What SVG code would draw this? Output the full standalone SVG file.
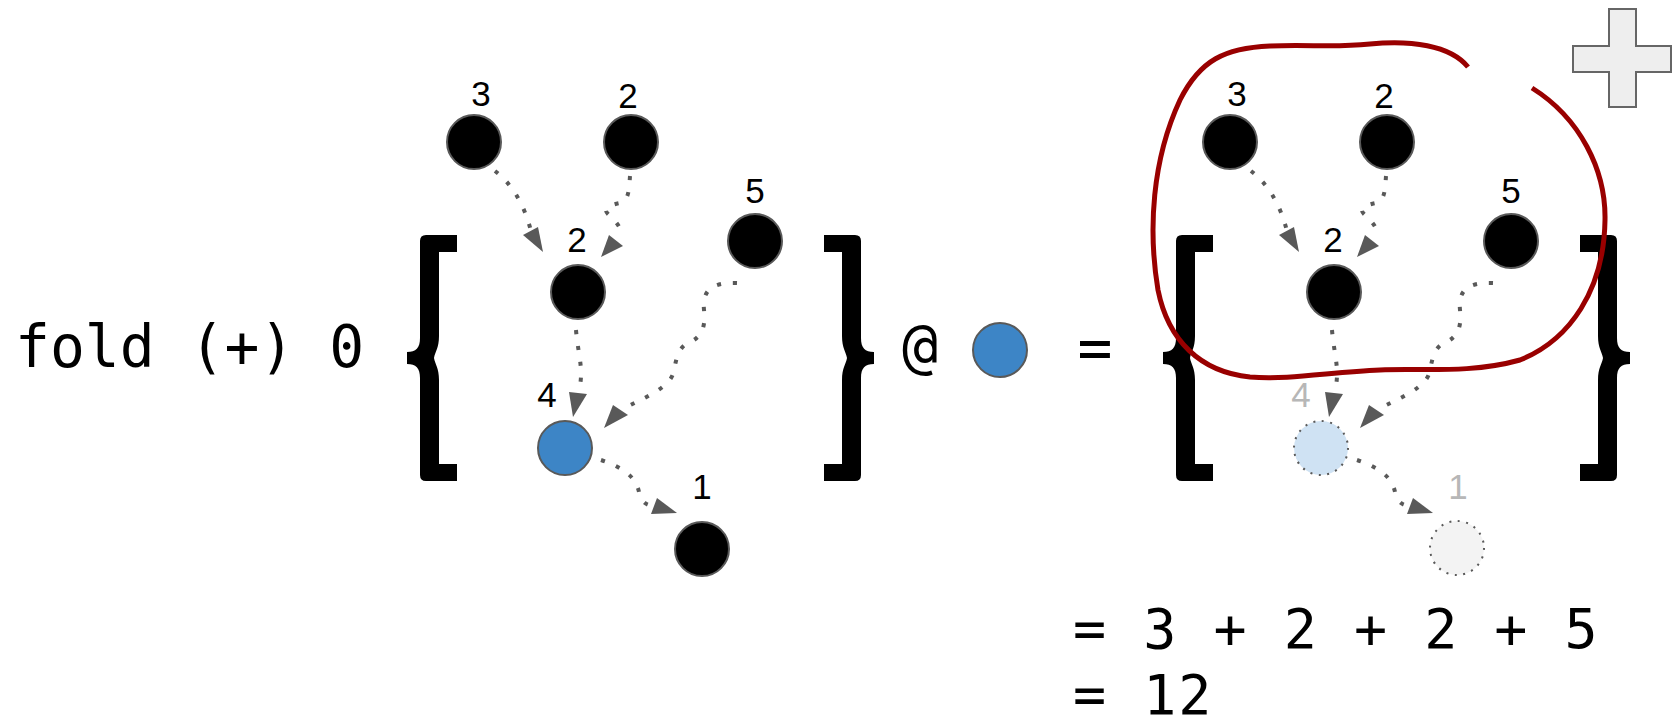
<svg xmlns="http://www.w3.org/2000/svg" xmlns:xlink="http://www.w3.org/1999/xlink" width="1677" height="728" viewBox="0 0 1677 728">
<style>
.mono{font-family:"DejaVu Sans Mono","Liberation Mono",monospace;fill:#000}
.lbl{font-family:"Liberation Sans",Arial,sans-serif;font-size:35px;text-anchor:middle;fill:#000}
.glbl{fill:#b7b7b7}
.node{stroke:#595959;stroke-width:2}
.blk{fill:#000}
.blue{fill:#3d85c6}
.gnode{stroke:#595959;stroke-width:2;stroke-dasharray:2 6.5}
.edge{fill:none;stroke:#595959;stroke-width:4;stroke-dasharray:4 12}
.ah{fill:#595959}
.brk{fill:#000}
</style>
<defs>
<path id="brk" class="brk" d="M6,235 L37,235 L37,252 L19,252 L19,336 C19,348 15,352 14,358 C15,364 19,368 19,380 L19,464 L37,464 L37,481 L6,481 Q0,481 0,475 L0,378 C0,368 -4,364 -13,364 L-13,352 C-4,352 0,348 0,338 L0,241 Q0,235 6,235 Z"/>
</defs>
<rect width="1677" height="728" fill="#fff"/>

<g id="expr-text">
<text class="mono" x="15" y="367" font-size="58">fold (+) 0</text>
<text class="mono" x="902" y="367" font-size="60">@</text>
<text class="mono" x="1095" y="368" font-size="58" text-anchor="middle">=</text>
<text class="mono" x="1073" y="648" font-size="55" letter-spacing="2">= 3 + 2 + 2 + 5</text>
<text class="mono" x="1073" y="714" font-size="55" letter-spacing="2">= 12</text>
</g>

<g id="brackets">
<use xlink:href="#brk" href="#brk" transform="translate(420,0)"/>
<use xlink:href="#brk" href="#brk" transform="translate(861,0) scale(-1,1)"/>
<use xlink:href="#brk" href="#brk" transform="translate(1176,0)"/>
<use xlink:href="#brk" href="#brk" transform="translate(1617,0) scale(-1,1)"/>
</g>

<g id="connectors">
<g id="edges-left">
<path class="edge" d="M495,171 C512,184 524,204 531,231"/>
<polygon class="ah" points="543,252 523,235 538,227"/>
<path class="edge" d="M630,176 C629,190 629,200 620,203 C610,205 602,208 608,214 C614,220 621,226 621,234"/>
<polygon class="ah" points="601,257 609,235 623,246"/>
<path class="edge" d="M576,330 C578,355 585,372 578,393"/>
<polygon class="ah" points="573,417 569,392 587,394"/>
<path class="edge" d="M737,283 C712,282 702,290 704,310 C706,328 701,338 688,343 C676,349 676,364 673,374 C668,388 645,398 620,410"/>
<polygon class="ah" points="604,428 613,405 628,415"/>
<path class="edge" d="M601,460 C625,468 636,478 639,492 C642,503 646,505 654,506"/>
<polygon class="ah" points="677,513 651,514 657,498"/>
</g>
<use id="edges-right" xlink:href="#edges-left" href="#edges-left" x="756" y="0"/>
</g>

<g id="node-L3"><circle class="node blk" cx="474" cy="142" r="27"/><text class="lbl" x="481" y="106">3</text></g>
<g id="node-L2a"><circle class="node blk" cx="631" cy="142" r="27"/><text class="lbl" x="628" y="108">2</text></g>
<g id="node-L5"><circle class="node blk" cx="755" cy="241" r="27"/><text class="lbl" x="755" y="203">5</text></g>
<g id="node-L2b"><circle class="node blk" cx="578" cy="292" r="27"/><text class="lbl" x="577" y="252">2</text></g>
<g id="node-L4"><circle class="node blue" cx="565" cy="448" r="27"/><text class="lbl" x="547" y="407">4</text></g>
<g id="node-L1"><circle class="node blk" cx="702" cy="549" r="27"/><text class="lbl" x="702" y="499">1</text></g>

<g id="node-at"><circle class="node blue" cx="1000" cy="350" r="27"/></g>

<g id="node-R3"><circle class="node blk" cx="1230" cy="142" r="27"/><text class="lbl" x="1237" y="106">3</text></g>
<g id="node-R2a"><circle class="node blk" cx="1387" cy="142" r="27"/><text class="lbl" x="1384" y="108">2</text></g>
<g id="node-R5"><circle class="node blk" cx="1511" cy="241" r="27"/><text class="lbl" x="1511" y="203">5</text></g>
<g id="node-R2b"><circle class="node blk" cx="1334" cy="292" r="27"/><text class="lbl" x="1333" y="252">2</text></g>
<g id="node-R4"><circle class="gnode" fill="#cfe2f3" cx="1321" cy="448" r="27"/><text class="lbl glbl" x="1301" y="407">4</text></g>
<g id="node-R1"><circle class="gnode" fill="#f3f3f3" cx="1457" cy="548" r="27"/><text class="lbl glbl" x="1458" y="499">1</text></g>

<g id="lasso">
<path d="M1532,88 C1580,118 1606,170 1605,220 C1604,290 1570,340 1520,360 C1470,374 1420,368 1380,370 C1330,372 1290,380 1250,377 C1200,372 1168,340 1158,290 C1148,230 1152,160 1180,100 C1200,60 1225,48 1270,46 C1310,44 1330,48 1370,44 C1410,40 1450,45 1468,67" fill="none" stroke="#990000" stroke-width="5"/>
</g>

<g id="plus">
<polygon points="1609,9 1636,9 1636,46 1671,46 1671,72 1636,72 1636,107 1609,107 1609,72 1573,72 1573,46 1609,46" fill="#eeeeee" stroke="#666666" stroke-width="2"/>
</g>
</svg>
